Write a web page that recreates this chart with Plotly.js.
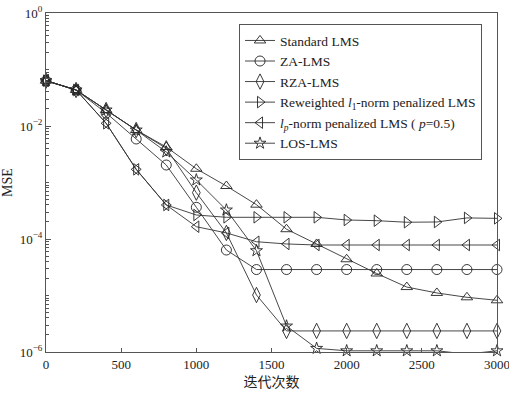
<!DOCTYPE html>
<html>
<head>
<meta charset="utf-8">
<script src="https://cdn.plot.ly/plotly-3.0.1.min.js"></script>
<style>html,body{margin:0;padding:0;background:#fff;}#chart{width:509px;height:396px;}</style>
</head>
<body>
<div id="chart"></div>
<script>
const iterations = [0, 200, 400, 600, 800, 1000, 1200, 1400, 1600, 1800, 2000, 2200, 2400, 2600, 2800, 3000];
const standardLMS = [0.0634, 0.0434, 0.0192, 0.00849, 0.00425, 0.00175, 8.67e-4, 4.05e-4, 1.49e-4, 8.17e-5, 4.38e-5, 2.45e-5, 1.41e-5, 1.11e-5, 9.29e-6, 8.22e-6];
const zaLMS = [0.0634, 0.0434, 0.0170, 0.00589, 0.00204, 3.64e-4, 6.38e-5, 2.88e-5, 2.88e-5, 2.88e-5, 2.88e-5, 2.88e-5, 2.88e-5, 2.88e-5, 2.88e-5, 2.88e-5];
const rzaLMS = [0.0634, 0.0434, 0.0192, 0.00849, 0.00403, 6.61e-4, 1.28e-4, 1.02e-5, 2.36e-6, 2.36e-6, 2.36e-6, 2.36e-6, 2.36e-6, 2.36e-6, 2.36e-6, 2.36e-6];
const reweightedL1 = [0.0634, 0.0434, 0.01117, 0.00171, 4.0e-4, 2.66e-4, 2.42e-4, 2.42e-4, 2.42e-4, 2.42e-4, 2.17e-4, 2.11e-4, 1.98e-4, 2.0e-4, 2.36e-4, 2.32e-4];
const lpNorm = [0.0634, 0.0434, 0.01117, 0.00171, 4.0e-4, 1.65e-4, 1.28e-4, 8.95e-5, 8.17e-5, 7.83e-5, 7.83e-5, 7.83e-5, 7.83e-5, 7.83e-5, 7.83e-5, 7.83e-5];
const losLMS = [0.0634, 0.0434, 0.0192, 0.00849, 0.00347, 0.00111, 3.26e-4, 6.21e-5, 2.88e-6, 1.16e-6, 1.05e-6, 1.05e-6, 1.05e-6, 1.05e-6, 9.2e-7, 1.05e-6];

const seriesNames = ['Standard LMS', 'ZA-LMS', 'RZA-LMS',
  'Reweighted <i>l</i><sub>1</sub>-norm penalized LMS',
  '<i>l<sub>p</sub></i>-norm penalized LMS ( <i>p</i>=0.5)',
  'LOS-LMS'];
const seriesData = [standardLMS, zaLMS, rzaLMS, reweightedL1, lpNorm, losLMS];
const symbols = ['triangle-up-open', 'circle-open', 'diamond-tall-open', 'triangle-right-open', 'triangle-left-open', 'star-open'];
const sizes = [10, 10, 11, 10, 10, 9];

const yTickVals = [1, 1e-2, 1e-4, 1e-6];
const yTickText = ['10<sup>0</sup>', '10<sup>\u22122</sup>', '10<sup>\u22124</sup>', '10<sup>\u22126</sup>'];
const xTickVals = [0, 500, 1000, 1500, 2000, 2500, 3000];

const traces = seriesData.map((d, i) => ({
  x: iterations, y: d, name: seriesNames[i], type: 'scatter', mode: 'lines+markers',
  cliponaxis: false,
  line: {color: '#333', width: 0.9},
  marker: {symbol: symbols[i], size: sizes[i], color: '#222', line: {color: '#222', width: 0.9}}
}));

const font = {family: 'Liberation Serif, Times New Roman, serif', size: 13, color: '#222'};
const layout = {
  width: 509, height: 396,
  margin: {l: 46, r: 12, t: 13, b: 44},
  paper_bgcolor: '#fff', plot_bgcolor: '#fff',
  font: font,
  showlegend: true,
  legend: {x: 0.428, y: 0.967, xanchor: 'left', yanchor: 'top', bgcolor: '#fff',
    bordercolor: '#555', borderwidth: 1, font: {family: font.family, size: 13.5, color: '#222'}},
  xaxis: {range: [0, 3000], tickvals: xTickVals, ticks: 'inside', ticklen: 4, tickcolor: '#555',
    ticklabeloverflow: 'allow',
    showline: true, linecolor: '#555', linewidth: 1, mirror: true, showgrid: false, zeroline: false,
    tickfont: {family: font.family, size: 13, color: '#222'},
    title: {text: '迭代次数', font: {family: 'Liberation Serif, Noto Sans CJK SC, serif', size: 14, color: '#222'}, standoff: 6}},
  yaxis: {type: 'log', range: [-6, 0], tickvals: yTickVals, ticktext: yTickText, ticks: 'inside', ticklen: 5,
    ticklabeloverflow: 'allow',
    tickcolor: '#555', showline: true, linecolor: '#555', linewidth: 1, mirror: true, showgrid: false, zeroline: false,
    minor: {ticks: 'inside', ticklen: 3, tickcolor: '#555', dtick: 'D1', showgrid: false},
    tickfont: {family: font.family, size: 13, color: '#222'},
    title: {text: 'MSE', font: {family: font.family, size: 14, color: '#222'}, standoff: 4}}
};
Plotly.newPlot('chart', traces, layout, {displayModeBar: false, staticPlot: true});
</script>
</body>
</html>
